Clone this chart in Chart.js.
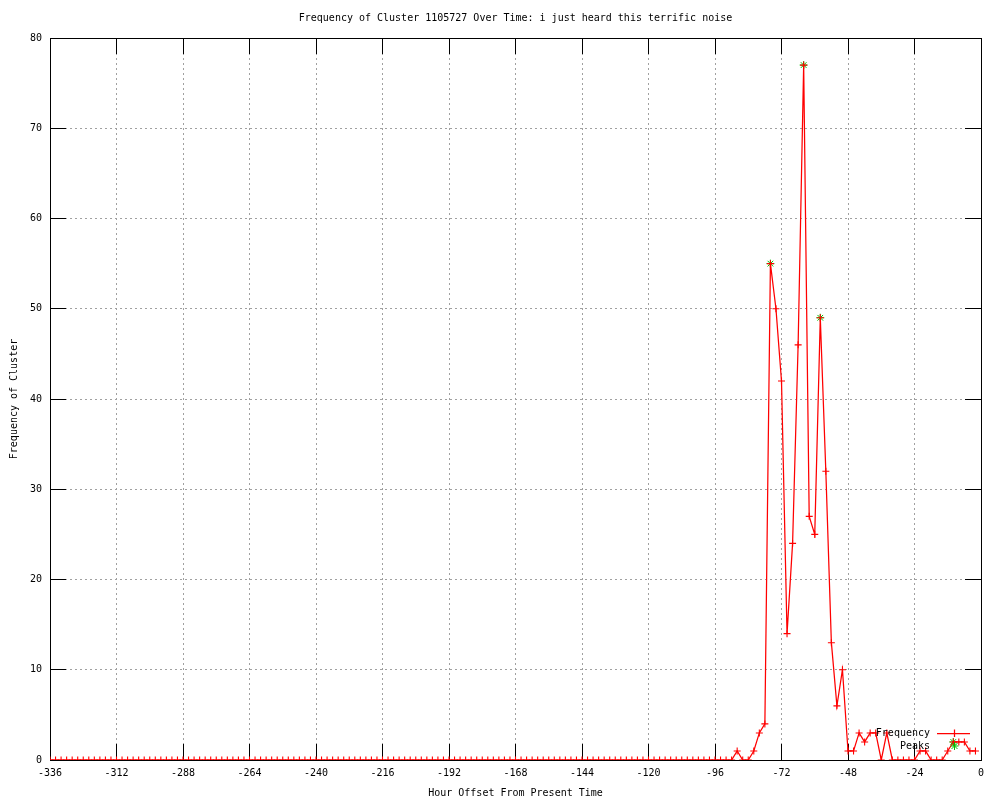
<!DOCTYPE html>
<html>
<head>
<meta charset="utf-8">
<script src="https://cdn.jsdelivr.net/npm/chart.js@4.4.1/dist/chart.umd.min.js"></script>
<style>
  html,body{margin:0;padding:0;background:#fff}
  #wrap{width:1000px;height:800px}
</style>
</head>
<body>
<div id="wrap"><canvas id="freq" width="1000" height="800"></canvas></div>
<script>
(function(){
  'use strict';

  // ---------- data ----------
  const TITLE   = 'Frequency of Cluster 1105727 Over Time: i just heard this terrific noise';
  const X_LABEL = 'Hour Offset From Present Time';
  const Y_LABEL = 'Frequency of Cluster';

  const HOURS = [
    -336,-334,-332,-330,-328,-326,-324,-322,-320,-318,-316,-314,
    -312,-310,-308,-306,-304,-302,-300,-298,-296,-294,-292,-290,
    -288,-286,-284,-282,-280,-278,-276,-274,-272,-270,-268,-266,
    -264,-262,-260,-258,-256,-254,-252,-250,-248,-246,-244,-242,
    -240,-238,-236,-234,-232,-230,-228,-226,-224,-222,-220,-218,
    -216,-214,-212,-210,-208,-206,-204,-202,-200,-198,-196,-194,
    -192,-190,-188,-186,-184,-182,-180,-178,-176,-174,-172,-170,
    -168,-166,-164,-162,-160,-158,-156,-154,-152,-150,-148,-146,
    -144,-142,-140,-138,-136,-134,-132,-130,-128,-126,-124,-122,
    -120,-118,-116,-114,-112,-110,-108,-106,-104,-102,-100, -98,
     -96, -94, -92, -90, -88, -86, -84, -82, -80, -78, -76, -74,
     -72, -70, -68, -66, -64, -62, -60, -58, -56, -54, -52, -50,
     -48, -46, -44, -42, -40, -38, -36, -34, -32, -30, -28, -26,
     -24, -22, -20, -18, -16, -14, -12, -10,  -8,  -6,  -4,  -2
  ];
  const FREQUENCY = [
     0, 0, 0, 0, 0, 0, 0, 0, 0, 0, 0, 0,
     0, 0, 0, 0, 0, 0, 0, 0, 0, 0, 0, 0,
     0, 0, 0, 0, 0, 0, 0, 0, 0, 0, 0, 0,
     0, 0, 0, 0, 0, 0, 0, 0, 0, 0, 0, 0,
     0, 0, 0, 0, 0, 0, 0, 0, 0, 0, 0, 0,
     0, 0, 0, 0, 0, 0, 0, 0, 0, 0, 0, 0,
     0, 0, 0, 0, 0, 0, 0, 0, 0, 0, 0, 0,
     0, 0, 0, 0, 0, 0, 0, 0, 0, 0, 0, 0,
     0, 0, 0, 0, 0, 0, 0, 0, 0, 0, 0, 0,
     0, 0, 0, 0, 0, 0, 0, 0, 0, 0, 0, 0,
     0, 0, 0, 0, 1, 0, 0, 1, 3, 4,55,50,
    42,14,24,46,77,27,25,49,32,13, 6,10,
     1, 1, 3, 2, 3, 3, 0, 3, 0, 0, 0, 0,
     0, 1, 1, 0, 0, 0, 1, 2, 2, 2, 1, 1
  ];
  const PEAK_HOURS  = [-76, -64, -58, -10];
  const PEAK_VALUES = [ 55,  77,  49,   2];

  const X_TICKS = [-336,-312,-288,-264,-240,-216,-192,-168,-144,-120,-96,-72,-48,-24,0];
  const Y_TICKS = [0,10,20,30,40,50,60,70,80];

  // ---------- style ----------
  const FONT = "'DejaVu Sans Mono', monospace";
  const RED = '#ff0000', GREEN = '#00c000', GRID = '#a0a0a0';
  const TICK_LEN = 16;

  function align(v){ return Math.round(v - 0.5) + 0.5; }

  // gnuplot-ish frame: border + inward ticks on all four sides
  const frame = {
    id: 'frame',
    beforeDatasetsDraw(chart){
      const {ctx, chartArea: a, scales: {x, y}} = chart;
      ctx.save();
      ctx.strokeStyle = '#000'; ctx.lineWidth = 1; ctx.setLineDash([]);
      ctx.beginPath();
      X_TICKS.forEach(v => {
        const px = align(x.getPixelForValue(v));
        ctx.moveTo(px, a.bottom); ctx.lineTo(px, a.bottom - TICK_LEN);
        ctx.moveTo(px, a.top);    ctx.lineTo(px, a.top + TICK_LEN);
      });
      Y_TICKS.forEach(v => {
        const py = align(y.getPixelForValue(v));
        ctx.moveTo(a.left, py);  ctx.lineTo(a.left + TICK_LEN, py);
        ctx.moveTo(a.right, py); ctx.lineTo(a.right - TICK_LEN, py);
      });
      ctx.stroke();
      const l = align(a.left), r = align(a.right), t = align(a.top), b = align(a.bottom);
      ctx.strokeRect(l, t, r - l, b - t);
      ctx.restore();
    },
    afterDraw(chart){
      const {ctx, chartArea: a} = chart;
      ctx.save();
      ctx.fillStyle = '#000';
      ctx.font = '10px ' + FONT;
      ctx.textBaseline = 'middle';
      // title
      ctx.textAlign = 'center';
      ctx.fillText(TITLE, (a.left + a.right) / 2, 18);

      // key (bottom right, inside plot, no box)
      const kx = a.right - 51, ky1 = a.bottom - 27, ky2 = a.bottom - 14;
      ctx.textAlign = 'right';
      ctx.fillText('Frequency', kx, ky1);
      ctx.fillText('Peaks', kx, ky2);
      const sx0 = kx + 7, sx1 = kx + 40, sc = Math.round((sx0 + sx1) / 2) + 0.5;
      ctx.strokeStyle = RED; ctx.lineWidth = 1.25;
      ctx.beginPath();
      ctx.moveTo(sx0, ky1 + 0.5); ctx.lineTo(sx1, ky1 + 0.5);
      ctx.moveTo(sc, ky1 - 3.5); ctx.lineTo(sc, ky1 + 4);
      ctx.stroke();
      ctx.strokeStyle = GREEN; ctx.lineWidth = 1;
      ctx.beginPath();
      ctx.moveTo(sc - 3, ky2 - 3); ctx.lineTo(sc + 3, ky2 + 3);
      ctx.moveTo(sc + 3, ky2 - 3); ctx.lineTo(sc - 3, ky2 + 3);
      ctx.moveTo(sc - 4, ky2); ctx.lineTo(sc + 4, ky2);
      ctx.moveTo(sc, ky2 - 4); ctx.lineTo(sc, ky2 + 4);
      ctx.stroke();
      ctx.restore();
    }
  };

  const tickFont = {family: FONT, size: 10};

  new Chart(document.getElementById('freq').getContext('2d'), {
    type: 'line',
    data: {
      datasets: [{
        label: 'Frequency',
        data: HOURS.map((h, i) => ({x: h, y: FREQUENCY[i]})),
        borderColor: RED,
        borderWidth: 1.25,
        tension: 0,
        fill: false,
        pointStyle: 'cross',
        pointRadius: 3.5,
        pointBorderColor: RED,
        pointBorderWidth: 1.1
      }, {
        label: 'Peaks',
        data: PEAK_HOURS.map((h, i) => ({x: h, y: PEAK_VALUES[i]})),
        showLine: false,
        pointStyle: 'star',
        pointRadius: 4,
        pointBorderColor: GREEN,
        pointBackgroundColor: GREEN,
        pointBorderWidth: 1
      }]
    },
    options: {
      responsive: false,
      animation: false,
      devicePixelRatio: 1,
      events: [],
      layout: {padding: {top: 38, right: 19, left: 0, bottom: 0}},
      plugins: {legend: {display: false}, tooltip: {enabled: false}, title: {display: false}},
      scales: {
        x: {
          type: 'linear', min: -336, max: 0,
          afterFit(s){ s.height = 40; },
          afterBuildTicks(s){ s.ticks = X_TICKS.map(v => ({value: v})); },
          ticks: {font: tickFont, color: '#000', padding: 7, maxRotation: 0, autoSkip: false},
          grid: {color: GRID, lineWidth: 1, drawTicks: false},
          border: {display: false, dash: [2, 3]},
          title: {display: true, text: X_LABEL, color: '#000', font: tickFont, padding: {top: 0, bottom: 1}}
        },
        y: {
          type: 'linear', min: 0, max: 80,
          afterFit(s){ s.width = 50; },
          afterBuildTicks(s){ s.ticks = Y_TICKS.map(v => ({value: v})); },
          ticks: {font: tickFont, color: '#000', padding: 8},
          grid: {color: GRID, lineWidth: 1, drawTicks: false},
          border: {display: false, dash: [2, 3]},
          title: {display: true, text: Y_LABEL, color: '#000', font: tickFont, padding: {top: 8, bottom: 0}}
        }
      }
    },
    plugins: [frame]
  });
})();
</script>
</body>
</html>
